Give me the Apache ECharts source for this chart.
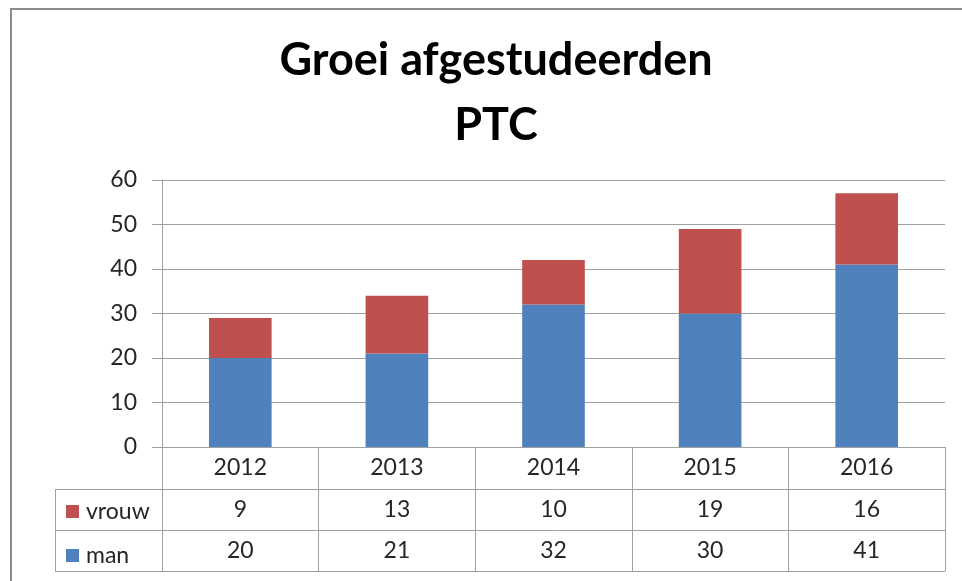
<!DOCTYPE html>
<html>
<head>
<meta charset="utf-8">
<script src="https://cdn.jsdelivr.net/npm/echarts@6/dist/echarts.min.js"></script>
<style>html,body{margin:0;padding:0;background:#fff}#c{width:962px;height:581px}</style>
</head>
<body>
<div id="c"></div>
<script>
const years = ['2012', '2013', '2014', '2015', '2016'];
const man = [20, 21, 32, 30, 41];
const vrouw = [9, 13, 10, 19, 16];
const yTicks = [0, 10, 20, 30, 40, 50, 60];

const FONT = 'Lato';
const TXT = '#262626';
const LINE = '#a0a0a0';
const FS = 23;

const chart = echarts.init(document.getElementById('c'), null, {renderer: 'canvas'});

const extraAxis = (offset, labels) => ({
  type: 'category', data: years, position: 'bottom', offset: offset, gridIndex: 0,
  axisLine: {show: true, lineStyle: {color: LINE, width: 1}},
  axisTick: {show: false},
  splitLine: {show: false},
  axisLabel: labels ? {
    show: true, interval: 0, margin: 9, fontFamily: FONT, fontSize: FS, color: TXT,
    formatter: (v, i) => String(labels[i])
  } : {show: false}
});

chart.setOption({
  animation: false,
  backgroundColor: '#fff',
  title: {
    text: 'Groei afgestudeerden\nPTC',
    left: 491, top: 23, textAlign: 'center',
    textStyle: {fontFamily: FONT, fontWeight: 'bold', fontSize: 45, lineHeight: 65, color: '#000'}
  },
  legend: {
    data: ['vrouw', 'man'],
    orient: 'vertical', left: 61, top: 495,
    icon: 'rect', itemWidth: 13, itemHeight: 13, itemGap: 21,
    textStyle: {fontFamily: FONT, fontSize: FS, color: TXT, lineHeight: 20, padding: [0, 0, 0, 2]},
    selectedMode: false
  },
  grid: {left: 162, right: 17, top: 180, bottom: 134},
  xAxis: [
    {
      type: 'category', data: years, position: 'bottom',
      axisLine: {show: true, lineStyle: {color: LINE, width: 1}},
      axisTick: {show: true, interval: 0, length: 124, alignWithLabel: false, lineStyle: {color: LINE}},
      axisLabel: {interval: 0, margin: 9, fontFamily: FONT, fontSize: FS, color: TXT},
      splitLine: {show: false}
    },
    extraAxis(42, vrouw),
    extraAxis(83, man),
    extraAxis(124, null)
  ],
  yAxis: {
    type: 'value', min: yTicks[0], max: yTicks[yTicks.length - 1], interval: 10,
    axisLine: {show: true, lineStyle: {color: LINE}},
    axisTick: {show: true, length: 10, lineStyle: {color: LINE}},
    splitLine: {show: true, lineStyle: {color: LINE, width: 1}},
    axisLabel: {margin: 25, fontFamily: FONT, fontSize: FS, color: TXT}
  },
  series: [
    {name: 'man', type: 'bar', stack: 'total', data: man, barWidth: '40%', itemStyle: {color: '#4f81bd'}},
    {name: 'vrouw', type: 'bar', stack: 'total', data: vrouw, barWidth: '40%', itemStyle: {color: '#c0504d'}}
  ],
  graphic: [
    {type: 'rect', shape: {x: 11, y: 9, width: 1200, height: 1200}, style: {fill: 'none', stroke: '#8c8c8c', lineWidth: 2}, silent: true, z: -1},
    {type: 'line', shape: {x1: 55, y1: 489.5, x2: 162, y2: 489.5}, style: {stroke: LINE, lineWidth: 1}},
    {type: 'line', shape: {x1: 55, y1: 530.5, x2: 162, y2: 530.5}, style: {stroke: LINE, lineWidth: 1}},
    {type: 'line', shape: {x1: 55, y1: 571.5, x2: 162, y2: 571.5}, style: {stroke: LINE, lineWidth: 1}},
    {type: 'line', shape: {x1: 55.5, y1: 489, x2: 55.5, y2: 572}, style: {stroke: LINE, lineWidth: 1}}
  ]
});
</script>
</body>
</html>
